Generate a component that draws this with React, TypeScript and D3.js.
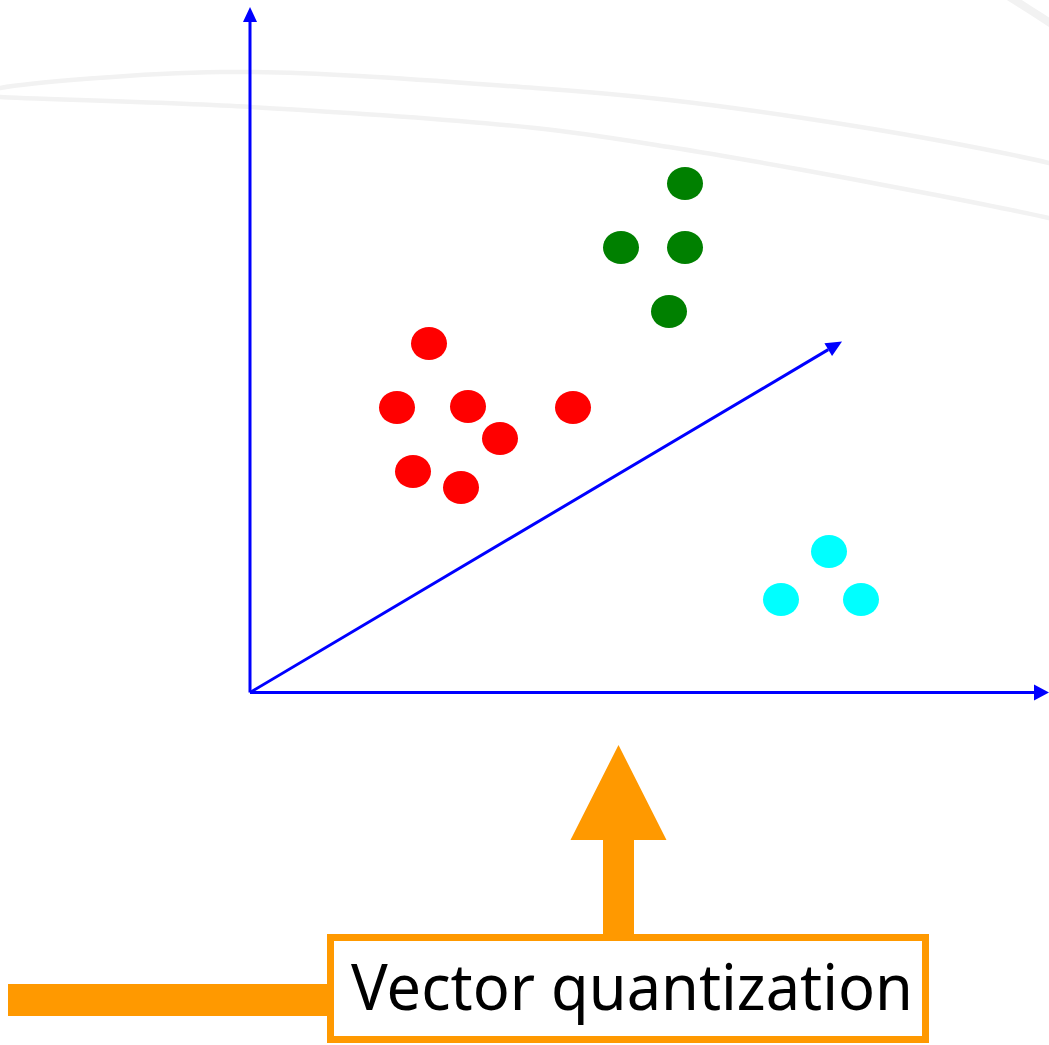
import React from "react";
import * as d3 from "d3";

// Data (units relative to the axis origin)
const redPoints: [number, number][] = [
  [179, 349], [147, 285], [218, 286], [250, 254], [163, 221], [211, 205], [323, 285],
];
const greenPoints: [number, number][] = [
  [435, 509], [371, 445], [435, 445], [419, 381],
];
const cyanPoints: [number, number][] = [
  [579, 141], [531, 93], [611, 93],
];
const diagonalAxisEnd: [number, number] = [592, 351];
const labelText = "Vector quantization";

// Background decorative curves (pixel space)
const bgCurveUpper: [number, number][] = [
  [-10, 91], [0, 88], [221, 72], [535, 88], [669, 100], [803, 118], [936, 140], [1049, 163], [1060, 166],
];
const bgCurveLower: [number, number][] = [
  [-10, 96], [0, 97], [251, 107], [535, 128], [669, 147], [803, 170], [936, 195], [1049, 218], [1060, 221],
];
const bgCurveCorner: [number, number][] = [
  [1008, -4], [1030, 10], [1055, 26],
];

const W = 1049;
const H = 1045;

const x = d3.scaleLinear().domain([0, 799]).range([250, 1049]);
const y = d3.scaleLinear().domain([0, 690]).range([692.5, 2.5]);

function arrowHead(x0: number, y0: number, x1: number, y1: number, len: number, width: number) {
  const dx = x1 - x0, dy = y1 - y0;
  const L = Math.hypot(dx, dy);
  const ux = dx / L, uy = dy / L;
  const bx = x1 - ux * len, by = y1 - uy * len;
  const px = -uy, py = ux;
  const pts = [
    [x1, y1],
    [bx + px * width / 2, by + py * width / 2],
    [bx - px * width / 2, by - py * width / 2],
  ];
  return { points: pts.map((p) => p.join(",")).join(" "), bx, by };
}

export default function App() {
  const line = d3.line<[number, number]>().curve(d3.curveCatmullRom);
  const ox = x(0), oy = y(0);
  const yTop = arrowHead(ox, oy, ox, 7, 15, 14);
  const xEnd = arrowHead(ox, oy, 1049, oy, 15, 16);
  const dEnd = arrowHead(ox, oy, x(diagonalAxisEnd[0]), y(diagonalAxisEnd[1]), 16, 15);
  const blue = "#0000ff";
  const orange = "#ff9900";

  const dots = (pts: [number, number][], color: string) =>
    pts.map((p, i) => (
      <ellipse key={color + i} cx={x(p[0])} cy={y(p[1])} rx={18} ry={16.5} fill={color} />
    ));

  // orange up arrow
  const ax = 618.5;
  const arrowTip = 745;
  const arrowBase = 840;
  const shaftHalf = 15.5;
  const headHalf = 48;
  const boxTop = 934;

  return (
    <svg
      width={W}
      height={H}
      style={{ position: "absolute", left: 0, top: 0, background: "#ffffff" }}
    >
      <rect x={0} y={0} width={W} height={H} fill="#ffffff" />
      <g fill="none" stroke="#f2f2f2">
        <path d={line(bgCurveUpper) || ""} strokeWidth={4.5} />
        <path d={line(bgCurveLower) || ""} strokeWidth={4.5} />
        <path d={line(bgCurveCorner) || ""} strokeWidth={8} />
      </g>

      {/* axes */}
      <g stroke={blue} strokeWidth={3}>
        <line x1={ox} y1={oy} x2={ox} y2={yTop.by} />
        <line x1={ox} y1={oy} x2={xEnd.bx} y2={oy} />
        <line x1={ox} y1={oy} x2={dEnd.bx} y2={dEnd.by} />
      </g>
      <g fill={blue}>
        <polygon points={yTop.points} />
        <polygon points={xEnd.points} />
        <polygon points={dEnd.points} />
      </g>

      {dots(redPoints, "#ff0000")}
      {dots(greenPoints, "#008000")}
      {dots(cyanPoints, "#00ffff")}

      {/* orange arrow */}
      <polygon
        fill={orange}
        points={[
          [ax, arrowTip],
          [ax + headHalf, arrowBase],
          [ax + shaftHalf, arrowBase],
          [ax + shaftHalf, boxTop],
          [ax - shaftHalf, boxTop],
          [ax - shaftHalf, arrowBase],
          [ax - headHalf, arrowBase],
        ].map((p) => p.join(",")).join(" ")}
      />
      {/* left orange bar */}
      <rect x={8} y={984} width={322} height={32} fill={orange} />
      {/* label box */}
      <rect x={330.5} y={937.5} width={595} height={102} fill="#ffffff" stroke={orange} strokeWidth={7} />
      <text
        x={351}
        y={1010}
        fontFamily="'Noto Sans', 'Open Sans', sans-serif"
        fontSize={63}
        fill="#000000"
        textLength={562}
        lengthAdjust="spacingAndGlyphs"
      >
        {labelText}
      </text>
    </svg>
  );
}
